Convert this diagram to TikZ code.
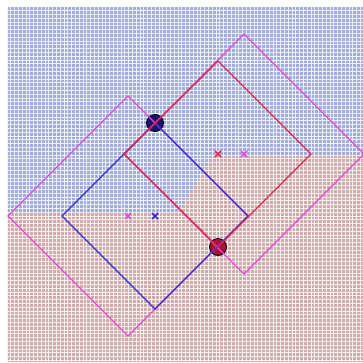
\documentclass[tikz,border=0pt]{standalone}
\usepackage{tikz}
\usetikzlibrary{calc}

\definecolor{bgblue}{RGB}{160,172,220}
\definecolor{bgpink}{RGB}{208,170,170}
\definecolor{sqblue}{RGB}{55,45,205}
\definecolor{sqred}{RGB}{225,40,75}
\definecolor{sqmag}{RGB}{225,75,215}

\tikzset{
  gridline/.style={white,line width=1pt,opacity=0.8},
  sqline/.style={line width=1.4pt,line join=miter},
  crossmark/.style={line width=1.7pt},
}

\begin{document}
\begin{tikzpicture}[x=1pt,y=-1pt]
        % picture is 363 x 363, y grows downwards
        \useasboundingbox (0,0) rectangle (363,363);

        % Background classes (blue above, pink below)
        \fill[bgblue] (7,7) rectangle (363,362);
        \fill[bgpink] (7,213) -- (178,213) -- (213,156) -- (363,156)
                -- (363,362) -- (7,362) -- cycle;
        \foreach \g in {0,...,93} {
            \draw[gridline] ({7+3.8*\g},7) -- ({7+3.8*\g},362);
            \draw[gridline] (7,{7+3.8*\g}) -- (363,{7+3.8*\g});
        }

        % centres
        \coordinate (Cb) at (155,216);
        \coordinate (Cr) at (218,154);
        \coordinate (Cml) at (128,216);
        \coordinate (Cmr) at (244,154);

        % the two marked points
        \coordinate (Pb) at (155,123);
        \coordinate (Pr) at (218,247);
        \filldraw[fill={rgb,255:red,25;green,20;blue,110},draw=black,line width=0.8pt] (Pb) circle (8.5);
        \filldraw[fill={rgb,255:red,165;green,20;blue,50},draw=black,line width=0.8pt] (Pr) circle (8.5);

        % Magenta squares (half diagonal 120)
        \draw[sqmag,sqline] ($(Cml)+(-120,0)$) -- ($(Cml)+(0,-120)$)
                -- ($(Cml)+(120,0)$) -- ($(Cml)+(0,120)$) -- cycle;
        \begin{scope}
            \clip (7,7) rectangle (363,362);
            \draw[sqmag,sqline] ($(Cmr)+(-120,0)$) -- ($(Cmr)+(0,-120)$)
                    -- ($(Cmr)+(120,0)$) -- ($(Cmr)+(0,120)$) -- cycle;
        \end{scope}

        % Blue square (half diagonal 93)
        \draw[sqblue,sqline] ($(Cb)+(-93,0)$) -- (Pb)
                -- ($(Cb)+(93,0)$) -- ($(Cb)+(0,93)$) -- cycle;

        % Red square (half diagonal 93)
        \draw[sqred,sqline] ($(Cr)+(-94,0)$) -- ($(Cr)+(0,-93)$)
                -- ($(Cr)+(93,0)$) -- (Pr) -- cycle;

        % crosses at the centres
        \foreach \c/\col in {Cb/sqblue, Cr/sqred, Cml/sqmag, Cmr/sqmag} {
            \draw[crossmark,\col] ($(\c)+(-3,-3)$) -- ($(\c)+(3,3)$);
            \draw[crossmark,\col] ($(\c)+(-3,3)$) -- ($(\c)+(3,-3)$);
        }
    \end{tikzpicture}
\end{document}
